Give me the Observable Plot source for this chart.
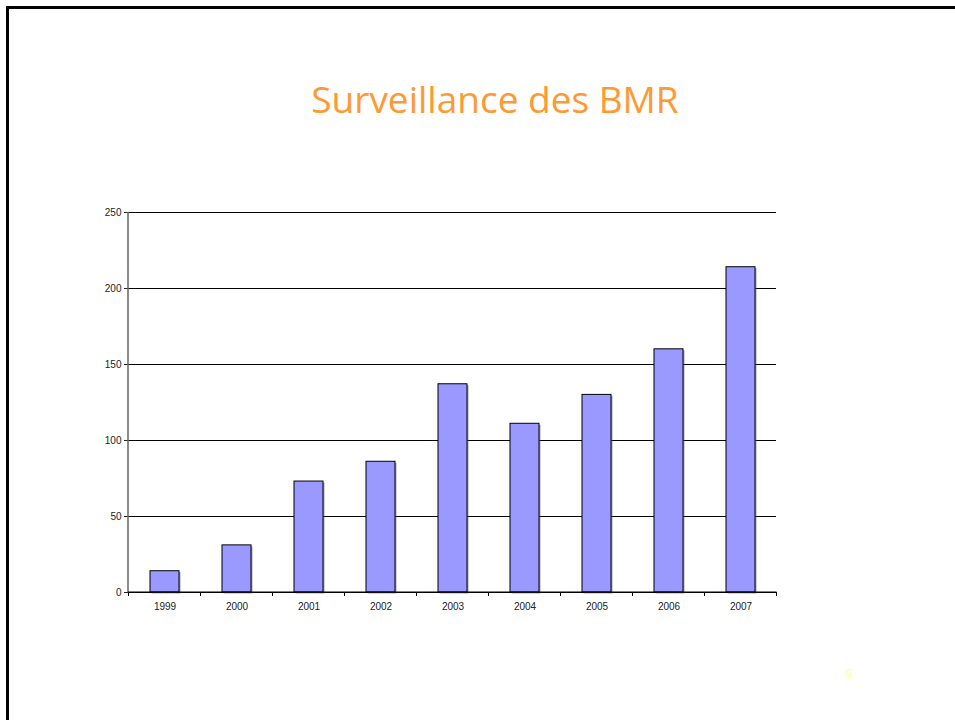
<!DOCTYPE html>
<html>
<head>
<meta charset="utf-8">
<script src="https://cdn.jsdelivr.net/npm/d3@7"></script>
<script src="https://cdn.jsdelivr.net/npm/@observablehq/plot@0.6"></script>
<style>
  html, body { margin: 0; padding: 0; background: #fff; }
  body { width: 955px; height: 720px; position: relative; overflow: hidden; }
  #frame { position: absolute; left: 6px; top: 6px; width: 2000px; height: 2000px;
           border-left: 3px solid #000; border-top: 3px solid #000; }
  #title { position: absolute; left: 0; width: 990px; top: 74px; text-align: center;
           font-family: "Open Sans", "DejaVu Sans", sans-serif; font-size: 37px;
           color: #FF9933; line-height: 50px; white-space: nowrap; }
  #chart { position: absolute; left: 0; top: 180px; }
  #pagenum { position: absolute; left: 845px; top: 664px; font-family: "Open Sans", sans-serif;
             font-size: 14px; color: #FFFF99; }
</style>
</head>
<body>
<div id="frame"></div>
<div id="title">Surveillance des BMR</div>
<div id="chart"></div>
<div id="pagenum">9</div>
<script>
const years = ["1999","2000","2001","2002","2003","2004","2005","2006","2007"];
const counts = [14, 31, 73, 86, 137, 111, 130, 160, 214];
const yTicks = [0, 50, 100, 150, 200, 250];

const data = years.map((y, i) => ({year: y, value: counts[i]}));

function extraAxes(index, scales, values, dimensions) {
  const x = scales.x, y = scales.y;
  const g = d3.create("svg:g");
  const step = x(years[1]) - x(years[0]);
  const bw = typeof x.bandwidth === "function" ? x.bandwidth() : step * 0.4;
  const y0 = y(0);
  const left = dimensions.marginLeft;
  const bounds = years.map(d => x(d) + bw / 2 - step / 2);
  bounds.push(x(years[years.length - 1]) + bw / 2 + step / 2);
  g.selectAll("line.b").data(bounds).join("line")
    .attr("x1", d => d).attr("x2", d => d)
    .attr("y1", y0).attr("y2", y0 + 4)
    .attr("stroke", "#000").attr("stroke-width", 1);
  g.append("line")
    .attr("x1", left).attr("x2", left)
    .attr("y1", y(yTicks[yTicks.length - 1])).attr("y2", y0)
    .attr("stroke", "#666").attr("stroke-width", 1.5);
  g.append("line")
    .attr("x1", left).attr("x2", bounds[bounds.length - 1])
    .attr("y1", y0).attr("y2", y0)
    .attr("stroke", "#000").attr("stroke-width", 1);
  return g.node();
}

const chart = Plot.plot({
  width: 955,
  height: 450,
  marginLeft: 128,
  marginRight: 179,
  marginTop: 32,
  marginBottom: 38,
  style: { fontFamily: "Liberation Sans, Arial, sans-serif", fontSize: "10px", color: "#222", background: "transparent" },
  x: { domain: years, paddingInner: 0.6, paddingOuter: 0.3, label: null, tickSize: 0, tickPadding: 10 },
  y: { domain: [0, 250], ticks: yTicks, label: null, tickSize: 4, tickPadding: 3 },
  marks: [
    Plot.ruleY(yTicks, { stroke: "#000", strokeWidth: 1 }),
    Plot.barY(data, { x: "year", y: "value", fill: "#666", dx: 1.5, dy: 1.5, fillOpacity: 0.6 }),
    Plot.barY(data, { x: "year", y: "value", fill: "#9999FF", stroke: "#000", strokeWidth: 1 }),
    extraAxes
  ]
});
document.getElementById("chart").appendChild(chart);
</script>
</body>
</html>
